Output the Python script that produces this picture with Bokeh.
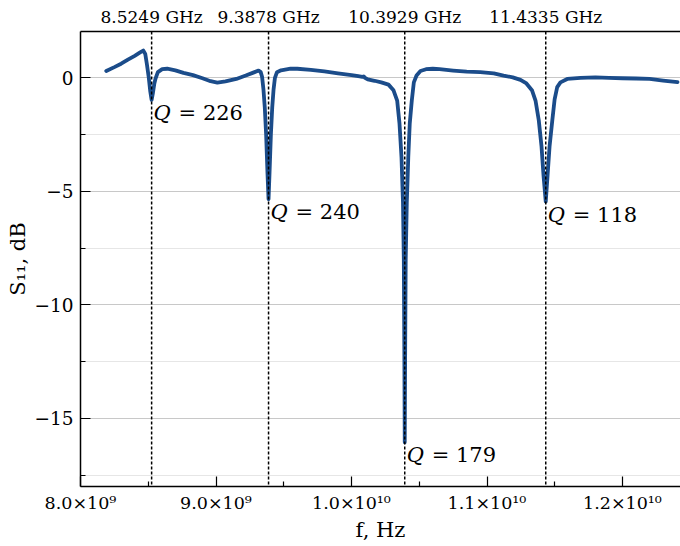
import numpy as np
from bokeh.plotting import figure
from bokeh.models import Range1d, LinearAxis, FixedTicker, Span, ColumnDataSource
from bokeh.core.properties import value
from bokeh.embed import file_html
from bokeh.resources import INLINE

# ---------------- data ----------------
freq_ghz = [8.19, 8.25, 8.30, 8.35, 8.40, 8.44, 8.463, 8.478, 8.490, 8.504,
            8.515, 8.5249, 8.535, 8.545, 8.553, 8.571, 8.603, 8.64, 8.70, 8.76,
            8.83, 8.90, 8.96, 9.01, 9.07, 9.15, 9.22, 9.28, 9.314, 9.330,
            9.340, 9.350, 9.360, 9.370, 9.380, 9.3878, 9.395, 9.405, 9.415, 9.425,
            9.435, 9.450, 9.48, 9.55, 9.60, 9.70, 9.80, 9.90, 10.00, 10.05,
            10.08, 10.09, 10.10, 10.12, 10.17, 10.22, 10.273, 10.310, 10.337, 10.354,
            10.369, 10.380, 10.386, 10.390, 10.3929, 10.396, 10.400, 10.408, 10.419, 10.430,
            10.445, 10.460, 10.480, 10.509, 10.55, 10.60, 10.65, 10.75, 10.85, 10.95,
            11.05, 11.122, 11.19, 11.247, 11.291, 11.333, 11.358, 11.382, 11.402, 11.417,
            11.4335, 11.447, 11.462, 11.482, 11.499, 11.518, 11.542, 11.592, 11.69, 11.80,
            11.90, 12.00, 12.10, 12.20, 12.30, 12.406]
s11_db = [0.30, 0.47, 0.62, 0.80, 0.97, 1.12, 1.20, 1.05, 0.60, 0.00,
          -0.60, -0.97, -0.65, -0.25, -0.05, 0.25, 0.38, 0.40, 0.33, 0.22,
          0.12, -0.02, -0.15, -0.21, -0.16, -0.05, 0.10, 0.24, 0.32, 0.25,
          0.05, -0.50, -1.30, -2.50, -4.20, -5.35, -4.20, -2.50, -1.30, -0.50,
          0.00, 0.25, 0.33, 0.40, 0.40, 0.35, 0.28, 0.20, 0.12, 0.07,
          0.04, 0.06, 0.00, -0.07, -0.13, -0.20, -0.30, -0.55, -1.00, -2.00,
          -3.50, -5.50, -8.00, -12.00, -16.05, -12.00, -8.00, -5.50, -3.50, -2.00,
          -1.00, -0.20, 0.10, 0.30, 0.38, 0.40, 0.38, 0.32, 0.27, 0.25,
          0.20, 0.10, 0.02, -0.09, -0.25, -0.56, -1.00, -1.87, -3.00, -4.30,
          -5.45, -4.30, -3.00, -1.87, -0.95, -0.41, -0.20, -0.05, 0.00, 0.02,
          0.00, -0.02, -0.03, -0.05, -0.12, -0.19]

res_ghz = [8.5249, 9.3878, 10.3929, 11.4335]
q_values = [226, 240, 179, 118]

xtick_ghz = [8.0, 9.0, 10.0, 11.0, 12.0]
xtick_labels = ["8.0×10⁹", "9.0×10⁹", "1.0×10¹⁰", "1.1×10¹⁰", "1.2×10¹⁰"]
xminor_ghz = [8.5, 9.5, 10.5, 11.5]
ytick_vals = [-15, -10, -5, 0]
ytick_labels = ["−15", "−10", "−5", "0"]
yminor_vals = [-17.5, -12.5, -7.5, -2.5]

# ---------------- derived ----------------
freq_hz = [f * 1e9 for f in freq_ghz]
res_hz = [f * 1e9 for f in res_ghz]
depth = [s11_db[int(np.argmin([abs(f - r) for f in freq_ghz]))] for r in res_ghz]

FONT = "DejaVu Serif"
BLUE = "#1b4c8a"

p = figure(width=680, height=544, output_backend="svg", toolbar_location=None,
           x_range=Range1d(8.0e9, 12.428e9), y_range=Range1d(-18.0, 2.04),
           min_border_left=80, min_border_right=0, min_border_top=31,
           min_border_bottom=55)
p.outline_line_color = None
p.background_fill_color = "white"
p.border_fill_color = "white"

# grid
p.xgrid.visible = False
p.ygrid.grid_line_color = "#c8c8c8"
p.ygrid.grid_line_width = 1
p.ygrid.minor_grid_line_color = "#e6e6e6"
p.ygrid.minor_grid_line_width = 1

# bottom axis
xb = p.below[0]
xb.ticker = FixedTicker(ticks=[v * 1e9 for v in xtick_ghz],
                        minor_ticks=[v * 1e9 for v in xminor_ghz])
xb.major_label_overrides = {v * 1e9: lab for v, lab in zip(xtick_ghz, xtick_labels)}
xb.major_tick_in = 10
xb.major_tick_out = 0
xb.minor_tick_in = 5
xb.minor_tick_out = 0
xb.axis_line_width = 1.5
xb.major_tick_line_width = 1.2
xb.minor_tick_line_width = 1.2
xb.major_label_text_font = FONT
xb.major_label_text_font_size = "17.5px"
xb.major_label_text_color = "black"
xb.major_label_standoff = 6
xb.axis_label = "f, Hz"
xb.axis_label_text_font = FONT
xb.axis_label_text_font_style = "normal"
xb.axis_label_text_font_size = "21px"
xb.axis_label_text_color = "black"
xb.axis_label_standoff = 2

# left axis
yl = p.left[0]
yl.ticker = FixedTicker(ticks=ytick_vals, minor_ticks=yminor_vals)
yl.major_label_overrides = {v: lab for v, lab in zip(ytick_vals, ytick_labels)}
yl.major_tick_in = 10
yl.major_tick_out = 0
yl.minor_tick_in = 5
yl.minor_tick_out = 0
yl.axis_line_width = 1.5
yl.major_tick_line_width = 1.2
yl.minor_tick_line_width = 1.2
yl.major_label_text_font = FONT
yl.major_label_text_font_size = "18.5px"
yl.major_label_text_color = "black"
yl.major_label_standoff = 7
yl.axis_label = "S₁₁, dB"
yl.axis_label_text_font = FONT
yl.axis_label_text_font_style = "normal"
yl.axis_label_text_font_size = "21px"
yl.axis_label_text_color = "black"
yl.axis_label_standoff = 1

# top axis with resonance frequencies
top = LinearAxis(ticker=FixedTicker(ticks=res_hz, minor_ticks=[]),
                 major_label_overrides={r: f"{r / 1e9:.4f} GHz" for r in res_hz})
top.major_tick_in = 0
top.major_tick_out = 0
top.minor_tick_in = 0
top.minor_tick_out = 0
top.axis_line_width = 1.5
top.major_label_text_font = FONT
top.major_label_text_font_size = "17px"
top.major_label_text_color = "black"
top.major_label_standoff = 5
p.add_layout(top, "above")

# curve
p.line(freq_hz, s11_db, line_color=BLUE, line_width=3.8, line_join="round",
       line_cap="round")

# dotted resonance markers
for r in res_hz:
    p.add_layout(Span(location=r, dimension="height", line_color="black",
                      line_width=1.5, line_dash="3 2"))

# Q annotations
src = ColumnDataSource(dict(x=res_hz, y=depth,
                            q=["Q"] * len(q_values),
                            rest=[f"= {q}" for q in q_values]))
p.text(x="x", y="y", text="q", source=src, text_font=value(FONT),
       text_font_style="italic", text_font_size="21px", text_color="black",
       text_align="left", text_baseline="middle", x_offset=2, y_offset=13)
p.text(x="x", y="y", text="rest", source=src, text_font=value(FONT),
       text_font_size="21px", text_color="black",
       text_align="left", text_baseline="middle", x_offset=27, y_offset=13)

open("out.html", "w").write(file_html(p, INLINE))
